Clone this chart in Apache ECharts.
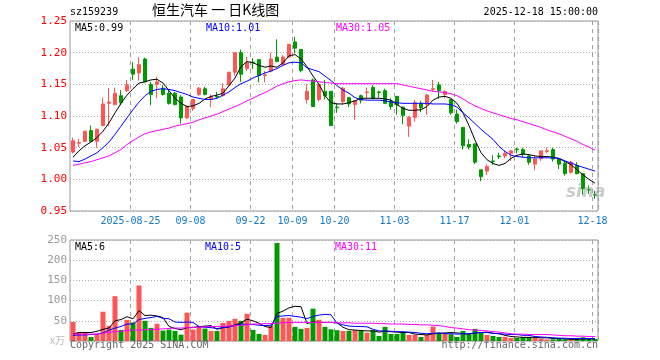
<!DOCTYPE html>
<html><head><meta charset="utf-8">
<script src="https://cdn.jsdelivr.net/npm/echarts@6/dist/echarts.min.js"></script>
<style>html,body{margin:0;padding:0;background:#fff}#c{width:660px;height:360px}</style>
</head><body><div id="c"></div>
<script>
const dates = [
'2025-08-11','2025-08-12','2025-08-13','2025-08-14','2025-08-15','2025-08-18','2025-08-19','2025-08-20','2025-08-21','2025-08-22',
'2025-08-25','2025-08-26','2025-08-27','2025-08-28','2025-08-29','2025-09-01','2025-09-02','2025-09-03','2025-09-04','2025-09-05',
'2025-09-08','2025-09-09','2025-09-10','2025-09-11','2025-09-12','2025-09-15','2025-09-16','2025-09-17','2025-09-18','2025-09-19',
'2025-09-22','2025-09-23','2025-09-24','2025-09-25','2025-09-26','2025-09-29','2025-09-30','2025-10-09','2025-10-10','2025-10-13',
'2025-10-14','2025-10-15','2025-10-16','2025-10-17','2025-10-20','2025-10-21','2025-10-22','2025-10-23','2025-10-24','2025-10-27',
'2025-10-28','2025-10-29','2025-10-30','2025-10-31','2025-11-03','2025-11-04','2025-11-05','2025-11-06','2025-11-07','2025-11-10',
'2025-11-11','2025-11-12','2025-11-13','2025-11-14','2025-11-17','2025-11-18','2025-11-19','2025-11-20','2025-11-21','2025-11-24',
'2025-11-25','2025-11-26','2025-11-27','2025-11-28','2025-12-01','2025-12-02','2025-12-03','2025-12-04','2025-12-05','2025-12-08',
'2025-12-09','2025-12-10','2025-12-11','2025-12-12','2025-12-15','2025-12-16','2025-12-17','2025-12-18'];
const labelDates = ['2025-08-25','2025-09-08','2025-09-22','2025-10-09','2025-10-20','2025-11-03','2025-11-17','2025-12-01','2025-12-18'];

const opens = [
1.043,1.057,1.060,1.077,1.060,1.085,1.120,1.118,1.132,1.140,
1.174,1.168,1.190,1.150,1.150,1.144,1.136,1.136,1.130,1.097,
1.112,1.134,1.143,1.127,1.131,1.132,1.149,1.169,1.200,1.175,
1.185,1.189,1.164,1.171,1.193,1.181,1.193,1.217,1.205,1.126,
1.157,1.126,1.139,1.139,1.114,1.123,1.129,1.118,1.132,1.137,
1.145,1.138,1.140,1.123,1.131,1.114,1.084,1.098,1.120,1.118,
1.142,1.149,1.134,1.126,1.103,1.082,1.055,1.056,1.015,1.013,
1.029,1.037,1.037,1.041,1.048,1.047,1.037,1.024,1.033,1.044,
1.047,1.032,1.025,1.011,1.022,1.009,0.984,0.976];
const closes = [
1.061,1.058,1.076,1.060,1.079,1.119,1.122,1.136,1.121,1.149,
1.166,1.181,1.154,1.134,1.154,1.134,1.120,1.118,1.097,1.115,
1.126,1.144,1.134,1.130,1.130,1.143,1.169,1.200,1.166,1.184,
1.184,1.164,1.165,1.190,1.186,1.193,1.213,1.207,1.172,1.139,
1.115,1.150,1.132,1.085,1.113,1.144,1.119,1.124,1.125,1.138,
1.128,1.137,1.120,1.115,1.118,1.101,1.098,1.121,1.113,1.133,
1.143,1.140,1.139,1.105,1.091,1.053,1.051,1.027,1.004,1.020,
1.028,1.036,1.041,1.045,1.047,1.040,1.027,1.032,1.045,1.045,
1.032,1.024,1.009,1.027,1.009,0.985,0.983,0.975];
const lows = [
1.041,1.051,1.059,1.059,1.050,1.084,1.084,1.117,1.117,1.138,
1.157,1.156,1.153,1.117,1.128,1.132,1.118,1.117,1.088,1.095,
1.108,1.132,1.133,1.114,1.128,1.131,1.148,1.164,1.154,1.171,
1.174,1.153,1.153,1.169,1.185,1.179,1.192,1.199,1.169,1.120,
1.114,1.123,1.126,1.084,1.105,1.118,1.114,1.094,1.120,1.128,
1.127,1.129,1.119,1.110,1.102,1.087,1.067,1.091,1.106,1.102,
1.138,1.127,1.128,1.102,1.088,1.047,1.047,1.024,0.997,1.007,
1.023,1.032,1.033,1.029,1.041,1.034,1.023,1.014,1.029,1.041,
1.028,1.016,1.006,1.009,1.008,0.976,0.977,0.969];
const highs = [
1.066,1.064,1.077,1.085,1.080,1.129,1.144,1.145,1.141,1.157,
1.185,1.193,1.192,1.154,1.162,1.149,1.141,1.138,1.133,1.117,
1.127,1.146,1.146,1.134,1.138,1.152,1.170,1.201,1.205,1.193,
1.191,1.190,1.171,1.200,1.221,1.196,1.214,1.225,1.206,1.150,
1.159,1.152,1.157,1.139,1.120,1.146,1.129,1.124,1.134,1.145,
1.149,1.140,1.143,1.128,1.131,1.115,1.100,1.125,1.124,1.135,
1.157,1.154,1.140,1.126,1.110,1.082,1.063,1.056,1.015,1.024,
1.038,1.042,1.046,1.046,1.050,1.050,1.039,1.037,1.045,1.050,
1.050,1.032,1.029,1.029,1.027,1.009,0.990,0.982];

const ma5 = [
1.035,1.045,1.053,1.059,1.066,1.076,1.089,1.105,1.120,1.133,
1.143,1.152,1.154,1.157,1.158,1.152,1.140,1.128,1.120,1.115,
1.116,1.120,1.127,1.131,1.133,1.136,1.148,1.160,1.178,1.186,
1.184,1.180,1.177,1.179,1.177,1.184,1.195,1.197,1.190,1.178,
1.163,1.150,1.132,1.121,1.119,1.119,1.121,1.124,1.128,1.128,
1.128,1.128,1.127,1.125,1.118,1.112,1.109,1.109,1.110,1.115,
1.125,1.130,1.131,1.128,1.120,1.105,1.085,1.062,1.042,1.031,
1.025,1.022,1.025,1.033,1.038,1.040,1.039,1.037,1.036,1.036,
1.035,1.033,1.028,1.023,1.015,1.007,1.000,0.994];
const ma10 = [
1.029,1.028,1.032,1.037,1.042,1.050,1.059,1.071,1.084,1.097,
1.110,1.122,1.132,1.139,1.142,1.143,1.142,1.140,1.137,1.134,
1.130,1.128,1.126,1.126,1.128,1.133,1.138,1.145,1.151,1.155,
1.160,1.164,1.168,1.171,1.175,1.180,1.184,1.185,1.184,1.176,
1.173,1.170,1.163,1.156,1.148,1.141,1.136,1.129,1.126,1.125,
1.125,1.125,1.124,1.122,1.121,1.120,1.120,1.120,1.120,1.120,
1.119,1.119,1.119,1.118,1.114,1.105,1.097,1.088,1.079,1.071,
1.063,1.052,1.044,1.038,1.036,1.035,1.034,1.034,1.034,1.034,
1.034,1.033,1.029,1.026,1.022,1.019,1.016,1.013];
const ma30 = [
1.022,1.024,1.026,1.028,1.031,1.034,1.037,1.042,1.047,1.055,
1.061,1.067,1.072,1.075,1.077,1.079,1.081,1.084,1.086,1.088,
1.090,1.094,1.097,1.100,1.103,1.107,1.111,1.115,1.119,1.124,
1.128,1.133,1.137,1.142,1.147,1.151,1.154,1.156,1.157,1.156,
1.155,1.154,1.153,1.152,1.151,1.151,1.151,1.151,1.151,1.151,
1.151,1.151,1.151,1.151,1.151,1.149,1.147,1.145,1.143,1.141,
1.139,1.138,1.137,1.135,1.132,1.127,1.121,1.116,1.112,1.108,
1.105,1.102,1.099,1.096,1.094,1.091,1.088,1.085,1.082,1.078,
1.075,1.072,1.068,1.064,1.060,1.055,1.051,1.046];

const volumes = [
47.5,22.5,22.5,10,16.7,72.5,37.5,110.8,27.5,52.5,
45.8,137.5,50,32.5,42.5,25.8,28.3,25,15.8,70,
28.3,37.5,30.8,25,25,45,50,55,50,67.5,
27.5,17.5,15,37.5,242.5,57.5,57.5,35,30,32.5,
80,52.5,35,29,26.7,25,25,26.7,25,20.8,
26.7,12.5,35,17.5,17.5,20,15,15,10,15,
35.8,19.2,17.5,16.7,10,25,16.7,30,22.5,15,
12.5,10,10,7.5,7.5,10,10,7.5,6,4,
4,6,4,4,4,9,6,5];
const volMa5 = [
17,21,21,21,24,29,32,50,53,60,
55,75,63,64,62,58,36,31,28,33,
34,35,37,38,29,33,35,40,45,54,
50,44,36,33,68,74,82,86,85,43,
47,46,46,46,45,34,28,27,26,25,
25,22,24,23,22,21,21,17,16,15,
18,19,20,21,20,18,17,20,21,22,
19,18,14,11,10,9,9,9,8,8,
6,6,5,4,4,5,5,6];
const volMa10 = [
14,15,15,16,17,20,27,32,36,42,
42,53,56,58,61,56,55,47,46,47,
46,36,34,33,31,33,35,38,42,41,
41,39,38,39,61,62,63,61,59,55,
61,64,66,65,44,40,37,36,36,35,
29,25,25,24,23,23,22,21,19,18,
19,20,18,18,17,18,18,20,21,21,
19,18,17,16,16,14,14,11,10,9,
8,7,7,6,6,6,6,5];
const volMa30 = [
17,17,17,17,17,19,22,23,24,26,
27,27,28,28,29,30,31,32,32,33,
33,34,35,36,36,37,37,38,39,40,
42,42,43,43,44,45,46,46,46,46,
46,46,46,46,45,45,45,44,44,44,
44,43,43,42,42,42,41,41,40,40,
39,38,36,33,32,30,28,27,26,25,
23,22,20,18,17,17,16,16,16,16,
15,14,13,13,12,12,11,11];

const priceTicks = [0.95, 1.25, 0.05];
const volTicks = [0, 250, 50];

const UP = '#ff5555', DOWN = '#009900';
const MONO = '"DejaVu Sans Mono", "Liberation Mono", monospace';
const last = a => a[a.length - 1];

const kData = dates.map((d, i) => [opens[i], closes[i], lows[i], highs[i]]);
const markIdx = labelDates.map(d => dates.indexOf(d));
const isMark = (idx) => markIdx.indexOf(idx) >= 0;
const dashStyle = { color: '#a0a0a0', type: [4, 4], width: 1 };

function txt(text, pos, color, size, family) {
  return Object.assign({ text: text, padding: 0, itemGap: 0,
    textStyle: { color: color, fontSize: size || 10, fontFamily: family || MONO, fontWeight: 'normal' } }, pos);
}

const chart = echarts.init(document.getElementById('c'));
chart.setOption({
  animation: false,
  backgroundColor: '#fff',
  title: [
    txt('sz159239', { left: 70, top: 7 }, '#000', 10),
    txt('恒生汽车 一 日K线图', { left: 152, top: 3 }, '#000', 14, '"Noto Sans CJK SC", sans-serif'),
    txt('2025-12-18 15:00:00', { right: 62, top: 7 }, '#000', 10),
    txt('MA5:' + last(ma5).toFixed(2), { left: 75, top: 23 }, '#000', 10),
    txt('MA10:' + last(ma10).toFixed(2), { left: 206, top: 23 }, '#0000ff', 10),
    txt('MA30:' + last(ma30).toFixed(2), { left: 336, top: 23 }, '#ff00ff', 10),
    txt('MA5:' + Math.round(last(volMa5)), { left: 75, top: 242 }, '#000', 10),
    txt('MA10:' + Math.round(last(volMa10)), { left: 205, top: 242 }, '#0000ff', 10),
    txt('MA30:' + Math.round(last(volMa30)), { left: 335, top: 242 }, '#ff00ff', 10),
    txt('x万', { left: 50, top: 335 }, '#bbb', 10, '"Noto Sans CJK SC", sans-serif'),
    txt('Copyright 2025 SINA.COM', { left: 70, top: 340 }, '#666', 10),
    txt('http://finance.sina.com.cn', { right: 62, top: 340 }, '#666', 10),
    { text: 'sina', left: 566, top: 184, padding: 0,
      textStyle: { color: 'rgba(160,160,160,0.55)', fontSize: 17, fontStyle: 'italic', fontWeight: 'bold', fontFamily: 'DejaVu Sans' } }
  ],
  grid: [
    { left: 70, top: 21, width: 528, height: 190, show: true, borderColor: '#999', borderWidth: 1, backgroundColor: 'transparent' },
    { left: 70, top: 240, width: 528, height: 101, show: true, borderColor: '#999', borderWidth: 1, backgroundColor: 'transparent' }
  ],
  xAxis: [
    { type: 'category', gridIndex: 0, data: dates, boundaryGap: true,
      axisLine: { show: false }, axisTick: { show: false, interval: isMark },
      splitLine: { show: true, interval: isMark, lineStyle: dashStyle },
      axisLabel: { show: true, margin: 5, color: '#1478c8', fontSize: 10, fontFamily: MONO,
        interval: isMark, padding: [0, 5, 0, 0],
        formatter: v => v === '2025-08-25' ? v : v.slice(5) } },
    { type: 'category', gridIndex: 1, data: dates, boundaryGap: true,
      axisLine: { show: false }, axisTick: { show: false, interval: isMark },
      splitLine: { show: true, interval: isMark, lineStyle: dashStyle },
      axisLabel: { show: false, interval: isMark } }
  ],
  yAxis: [
    { type: 'value', gridIndex: 0, min: priceTicks[0], max: priceTicks[1], interval: priceTicks[2],
      axisLine: { show: false }, axisTick: { show: false },
      splitLine: { show: true, lineStyle: { color: '#aaa', type: [1, 2], width: 1 } },
      axisLabel: { margin: 3, color: '#ff0000', fontSize: 11, fontFamily: MONO, showMinLabel: true, showMaxLabel: true,
        formatter: v => v.toFixed(2) } },
    { type: 'value', gridIndex: 1, min: volTicks[0], max: volTicks[1], interval: volTicks[2],
      axisLine: { show: false }, axisTick: { show: false },
      splitLine: { show: true, lineStyle: { color: '#aaa', type: [1, 2], width: 1 } },
      axisLabel: { margin: 3, color: '#999', fontSize: 11, fontFamily: MONO, showMaxLabel: true,
        formatter: v => v === 0 ? '' : String(v) } }
  ],
  series: [
    { type: 'candlestick', xAxisIndex: 0, yAxisIndex: 0, data: kData, barWidth: 4,
      itemStyle: { color: UP, color0: DOWN, borderColor: UP, borderColor0: DOWN, borderWidth: 1 }, z: 3 },
    { type: 'line', xAxisIndex: 0, yAxisIndex: 0, data: ma5, showSymbol: false, lineStyle: { color: '#000', width: 1 }, z: 4 },
    { type: 'line', xAxisIndex: 0, yAxisIndex: 0, data: ma10, showSymbol: false, lineStyle: { color: '#0000ff', width: 1 }, z: 4 },
    { type: 'line', xAxisIndex: 0, yAxisIndex: 0, data: ma30, showSymbol: false, lineStyle: { color: '#ff00ff', width: 1 }, z: 4 },
    { type: 'bar', xAxisIndex: 1, yAxisIndex: 1, data: volumes, barWidth: 5,
      itemStyle: { color: p => closes[p.dataIndex] >= opens[p.dataIndex] ? UP : DOWN }, z: 3 },
    { type: 'line', xAxisIndex: 1, yAxisIndex: 1, data: volMa5, showSymbol: false, lineStyle: { color: '#000', width: 1 }, z: 4 },
    { type: 'line', xAxisIndex: 1, yAxisIndex: 1, data: volMa10, showSymbol: false, lineStyle: { color: '#0000ff', width: 1 }, z: 4 },
    { type: 'line', xAxisIndex: 1, yAxisIndex: 1, data: volMa30, showSymbol: false, lineStyle: { color: '#ff00ff', width: 1 }, z: 4 }
  ]
});
</script></body></html>
